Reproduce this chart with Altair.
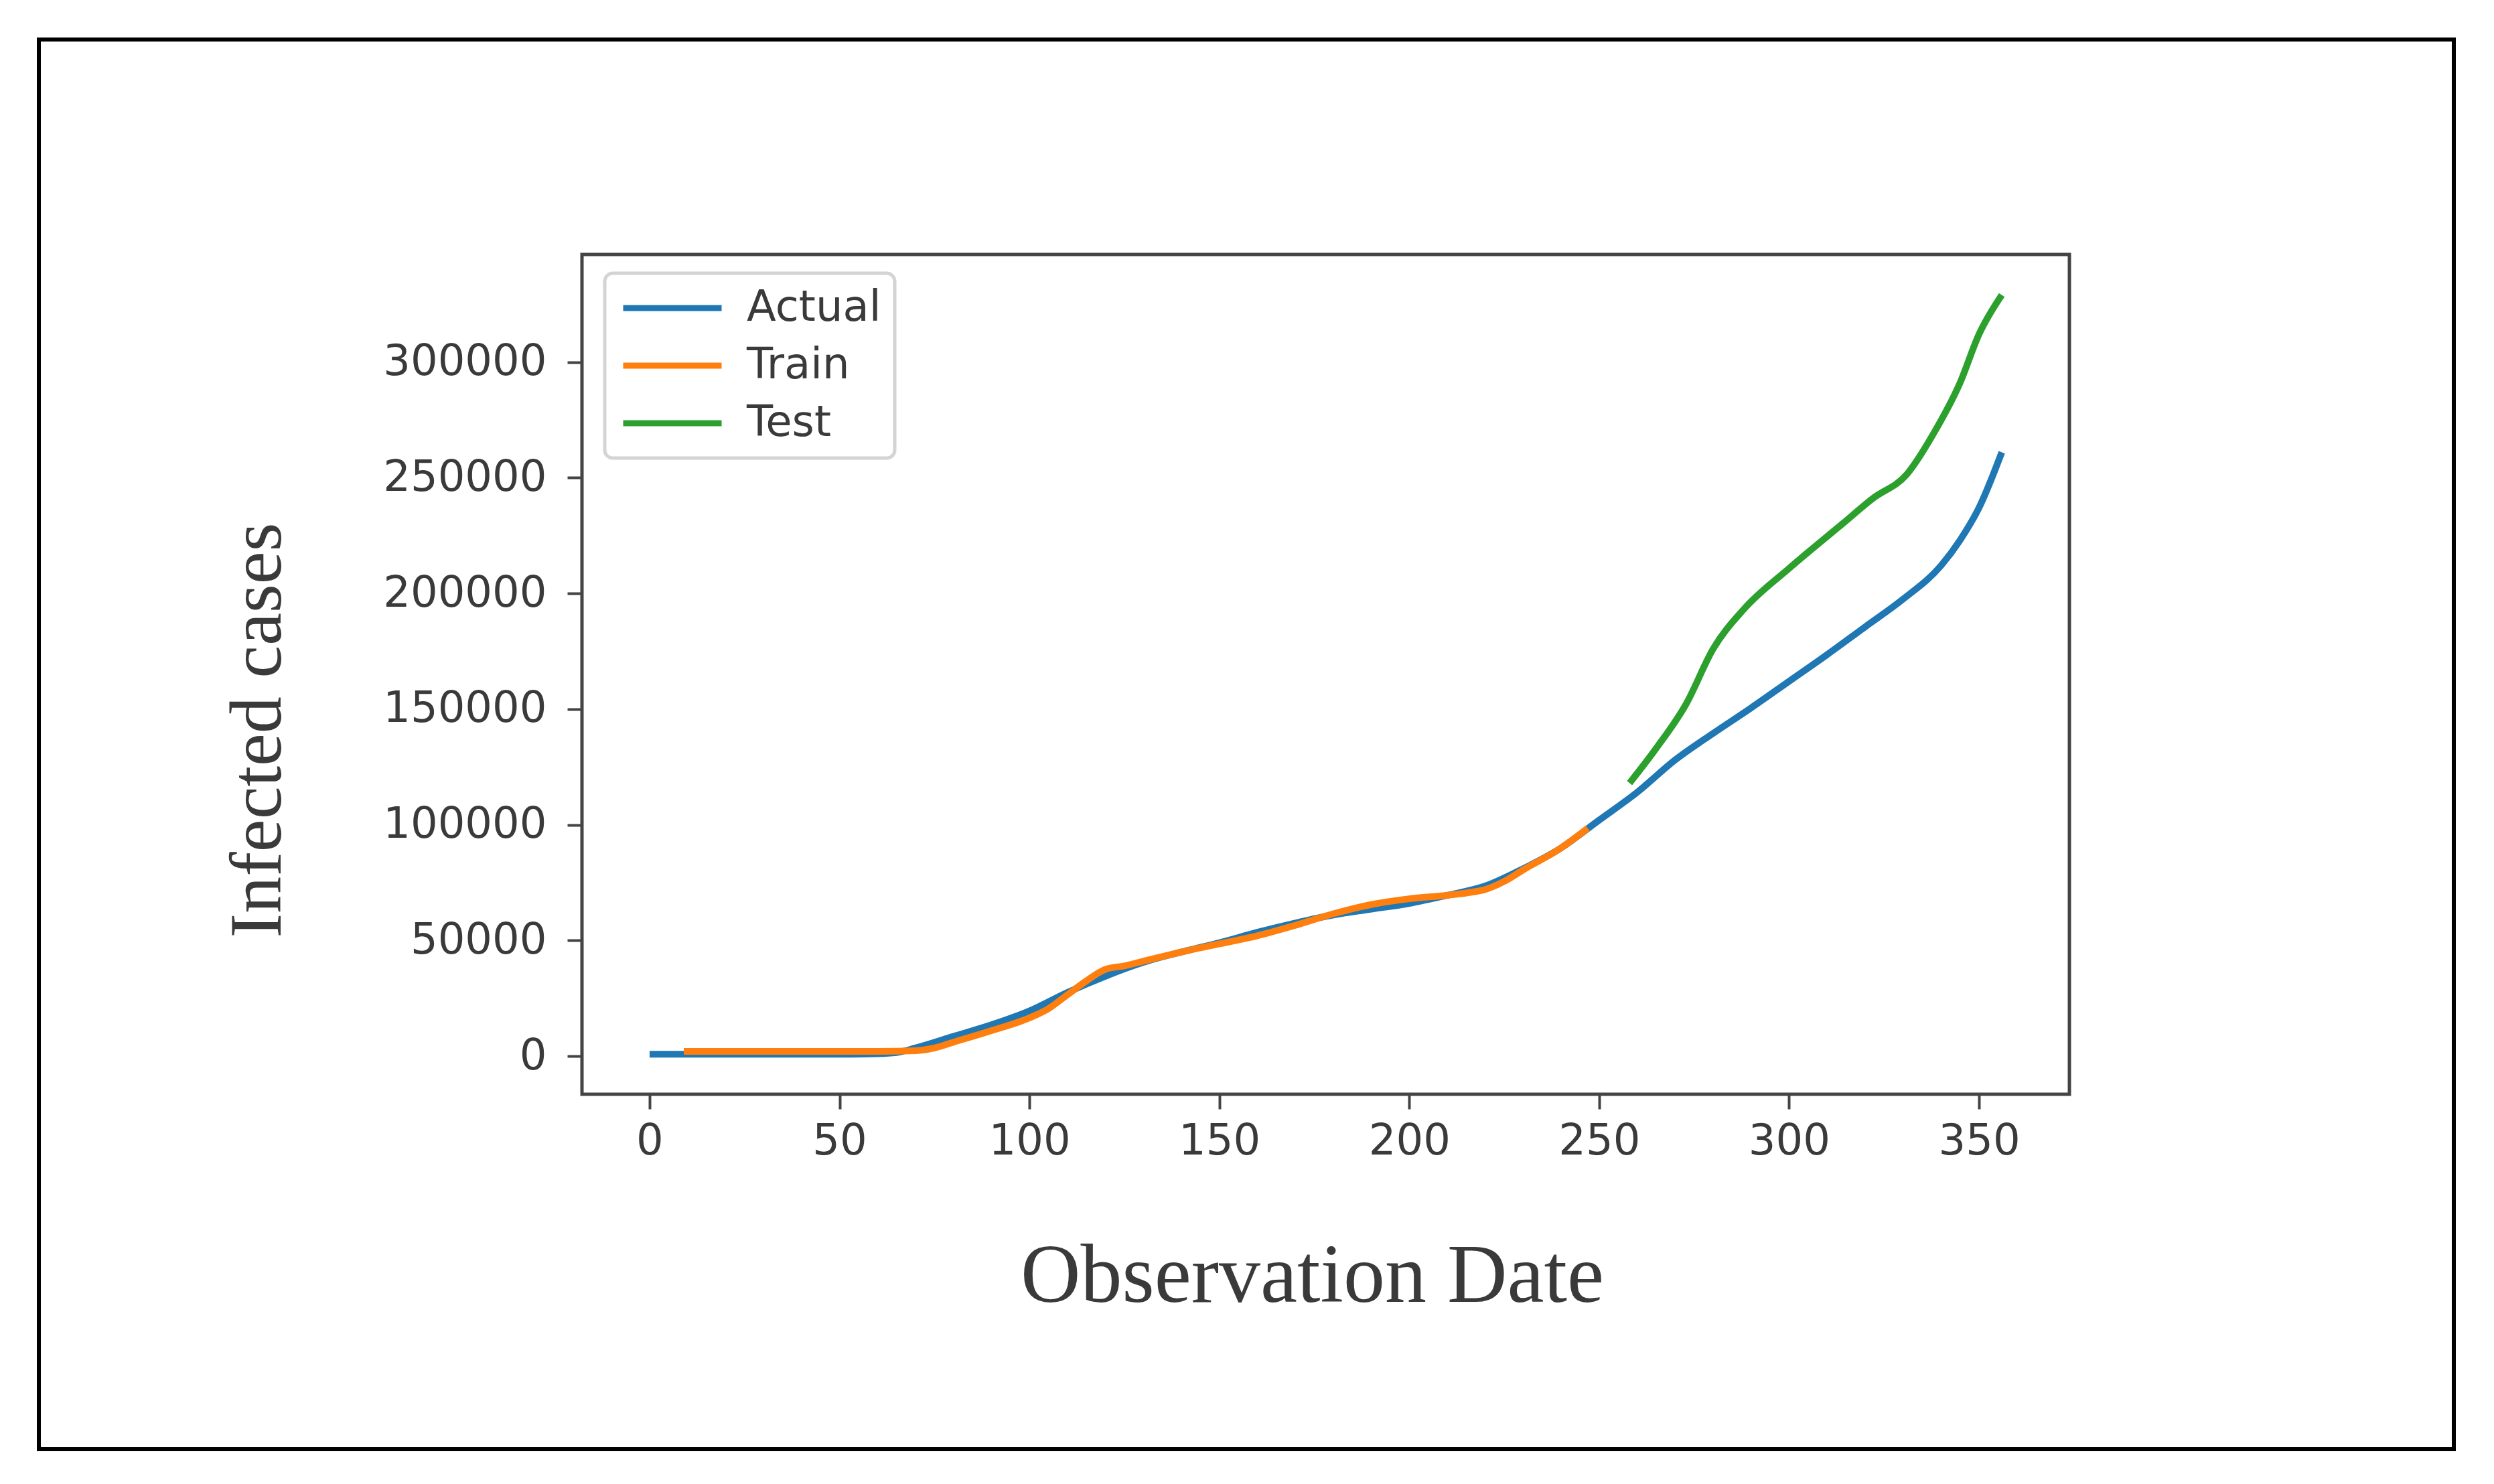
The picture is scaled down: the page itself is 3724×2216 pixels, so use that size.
import altair as alt
import pandas as pd

# ---- data ----
days_actual = [0, 10, 20, 30, 40, 50, 60, 65, 70, 80, 90, 100, 110, 120, 130, 140, 150, 160,
               170, 180, 190, 200, 210, 220, 230, 240, 250, 260, 270, 280, 290, 300, 310, 320,
               330, 340, 345, 350, 356]
cases_actual = [800, 800, 800, 800, 800, 800, 1000, 1500, 3500, 8500, 13500, 19500, 27500, 34500,
                40500, 45000, 49000, 53500, 57500, 61000, 63500, 66000, 69500, 73500, 81000, 90000,
                102000, 114000, 128000, 139500, 150500, 162000, 173500, 185500, 197500, 212000,
                223000, 237000, 261000]

days_train = [9, 20, 30, 40, 50, 60, 70, 75, 80, 90, 100, 105, 110, 115, 120, 125, 130, 140, 150,
              160, 170, 180, 190, 200, 210, 215, 220, 225, 230, 240, 247]
cases_train = [2000, 2000, 2000, 2000, 2000, 2000, 2300, 3500, 6000, 11000, 16500, 20500, 26500,
               32500, 37500, 39000, 41000, 45000, 48500, 52000, 56500, 61500, 65500, 68000, 69500,
               70500, 72000, 75500, 80500, 90000, 98500]

days_test = [258, 265, 273, 280, 288, 300, 314, 322, 331, 338, 345, 350, 356]
cases_test = [118000, 133000, 152500, 176000, 193000, 210800, 230000, 241000, 251500, 269000,
              291000, 312000, 329000]

series_names = ["Actual", "Train", "Test"]
series_colors = ["#1f77b4", "#ff7f0e", "#2ca02c"]
x_ticks = [0, 50, 100, 150, 200, 250, 300, 350]
y_ticks = [0, 50000, 100000, 150000, 200000, 250000, 300000]

df = pd.concat([
    pd.DataFrame({"day": days_actual, "cases": cases_actual, "series": "Actual"}),
    pd.DataFrame({"day": days_train, "cases": cases_train, "series": "Train"}),
    pd.DataFrame({"day": days_test, "cases": cases_test, "series": "Test"}),
], ignore_index=True)

TEXT = "#3a3a3a"
SPINE = "#444444"

color_scale = alt.Scale(domain=series_names, range=series_colors)
x_enc = alt.X("day:Q", scale=alt.Scale(domain=[-17.8, 373.8], nice=False, zero=False),
              axis=alt.Axis(values=x_ticks, title="Observation Date", grid=False, domain=False,
                            labelFontSize=64, labelFont="DejaVu Sans", labelColor=TEXT,
                            labelLimit=0, labelPadding=16, tickSize=22, tickWidth=4,
                            tickColor=SPINE, titleFont="Liberation Serif", titleFontSize=124,
                            titleFontWeight="normal", titleColor=TEXT,
                            titleX=1090, titleY=309, titleAlign="center",
                            titleBaseline="alphabetic"))
y_enc = alt.Y("cases:Q", scale=alt.Scale(domain=[-16500, 346500], nice=False, zero=False),
              axis=alt.Axis(values=y_ticks, format="d", title="Infected cases", grid=False,
                            domain=False, labelFontSize=64, labelFont="DejaVu Sans",
                            labelColor=TEXT, labelLimit=0, labelPadding=31, tickSize=22,
                            tickWidth=4, tickColor=SPINE, titleFont="Liberation Serif",
                            titleFontSize=110, titleFontWeight="normal", titleColor=TEXT,
                            titleAngle=270, titleX=-451, titleY=710, titleAlign="center",
                            titleBaseline="alphabetic", titleLimit=0))

legend = alt.Legend(title=None, orient="none", legendX=34, legendY=28, padding=20,
                    symbolType="M-1,0H5", symbolStrokeWidth=9, symbolSize=2401,
                    labelFontSize=64, labelFont="DejaVu Sans", labelColor=TEXT,
                    labelLimit=0, labelOffset=128, rowPadding=22, strokeColor="#d4d4d4",
                    fillColor="#ffffff", cornerRadius=12)

def series_layer(name):
    return alt.Chart(df).transform_filter(alt.datum.series == name).mark_line(
        strokeWidth=10, interpolate="monotone"
    ).encode(
        x=x_enc, y=y_enc,
        color=alt.Color("series:N", scale=color_scale, legend=legend),
    )

frame = alt.Chart(pd.DataFrame({"k": [0]})).mark_rect(
    fill="white", fillOpacity=0, stroke="black", strokeWidth=6
).encode(
    x=alt.value(-811), x2=alt.value(2795), y=alt.value(-321), y2=alt.value(1784)
)

chart = alt.layer(
    frame, series_layer("Actual"), series_layer("Train"), series_layer("Test")
).properties(
    width=2221, height=1254,
    autosize=alt.AutoSizeParams(type="none"),
    padding={"left": 861, "top": 372, "right": 620, "bottom": 566},
).configure_view(
    stroke=SPINE, strokeWidth=5
).configure_legend(
    strokeWidth=5
)

chart.save("out.html", embed_options={"renderer": "svg", "actions": False})
